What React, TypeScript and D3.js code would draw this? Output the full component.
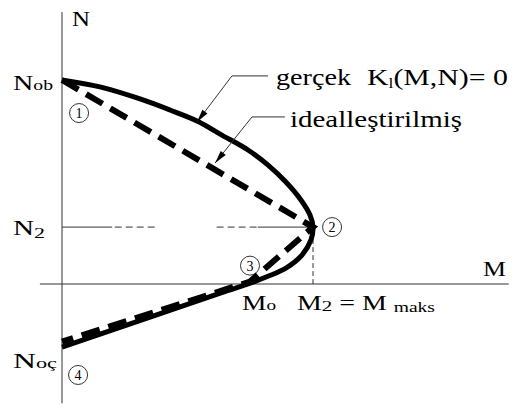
import React from 'react';
import * as d3 from 'd3';

const W = 514;
const H = 408;

// Interaction curve K1(M,N) = 0, normalised so that M2 = 1 and Nob = 1
const realM = [0, 0.151, 0.311, 0.43, 0.538, 0.637, 0.741, 0.821, 0.892, 0.952, 0.988, 1.0, 0.992, 0.956, 0.892, 0.813, 0.741, 0.657, 0];
const realN = [1.0, 0.966, 0.907, 0.853, 0.799, 0.73, 0.657, 0.583, 0.5, 0.412, 0.338, 0.279, 0.216, 0.142, 0.078, 0.034, 0, -0.034, -0.309];

// Idealised polygon 1-2-3-4
const idealM = [0, 1.0, 0.749, 0];
const idealN = [1.0, 0.279, 0.012, -0.283];

// Key points
const N2 = 0.279;
const M2 = 1.0;

// Numbered markers
const markerNames = ['1', '2', '3', '4'];
const markerM = [0.068, 1.076, 0.749, 0.064];
const markerN = [0.838, 0.279, 0.09, -0.446];

// Leader lines: [horizontal end, elbow, tip]
const leaderRealM = [0.821, 0.677, 0.538];
const leaderRealN = [1.02, 1.02, 0.794];
const leaderIdealM = [0.888, 0.757, 0.61];
const leaderIdealN = [0.819, 0.819, 0.593];

const FONT = 'Liberation Serif, Tinos, Times New Roman, serif';
const INK = '#000';
const THIN = '#333';

function arrowHead(x1: number, y1: number, x2: number, y2: number, len = 13, half = 3.2) {
  const dx = x2 - x1;
  const dy = y2 - y1;
  const d = Math.hypot(dx, dy);
  const ux = dx / d;
  const uy = dy / d;
  const bx = x2 - ux * len;
  const by = y2 - uy * len;
  return `M${x2},${y2}L${bx - uy * half},${by + ux * half}L${bx + uy * half},${by - ux * half}Z`;
}

export default function App() {
  const x = d3.scaleLinear().domain([0, 1]).range([62, 313]);
  const y = d3.scaleLinear().domain([0, 1]).range([284, 80]);

  const line = d3
    .line<number>()
    .x((_, i) => x(realM[i]))
    .y((_, i) => y(realN[i]))
    .curve(d3.curveCatmullRom.alpha(0.5));
  const idealLine = d3
    .line<number>()
    .x((_, i) => x(idealM[i]))
    .y((_, i) => y(idealN[i]));

  const realPath = line(realM.map((_, i) => i)) || '';
  const idealPath = idealLine(idealM.map((_, i) => i)) || '';

  const x0 = x(0);
  const y0 = y(0);
  const yN2 = y(N2);
  const xM2 = x(M2);

  const leader = (ms: number[], ns: number[]) => {
    const pts = ms.map((m, i) => [x(m), y(ns[i])]);
    const [a, b, c] = pts;
    return (
      <g>
        <polyline
          points={`${a[0]},${a[1]} ${b[0]},${b[1]} ${c[0]},${c[1]}`}
          fill="none"
          stroke={THIN}
          strokeWidth={1}
        />
        <path d={arrowHead(b[0], b[1], c[0], c[1])} fill={INK} />
      </g>
    );
  };

  const textStyle = { style: { fontFamily: FONT }, fill: INK } as const;

  return (
    <svg
      width={W}
      height={H}
      style={{ position: 'absolute', left: 0, top: 0, background: '#fff' }}
    >
      <rect width={W} height={H} fill="#fff" />

      {/* axes */}
      <line x1={x0} y1={y(1.333)} x2={x0} y2={y(-0.585)} stroke={THIN} strokeWidth={1} />
      <line x1={x(-0.088)} y1={y0} x2={x(1.78)} y2={y0} stroke={THIN} strokeWidth={1} />

      {/* N2 reference line */}
      <line x1={x0} y1={yN2} x2={x(0.2)} y2={yN2} stroke={THIN} strokeWidth={1} />
      <line x1={x(0.21)} y1={yN2} x2={x(0.382)} y2={yN2} stroke={THIN} strokeWidth={1} strokeDasharray="7 4" />
      <line x1={x(0.616)} y1={yN2} x2={x(0.78)} y2={yN2} stroke={THIN} strokeWidth={1} strokeDasharray="7 4" />
      <line x1={x(0.78)} y1={yN2} x2={xM2} y2={yN2} stroke={THIN} strokeWidth={1} />
      {/* M2 drop line */}
      <line x1={xM2} y1={yN2 + 4} x2={xM2} y2={y0} stroke={THIN} strokeWidth={1} strokeDasharray="5 3" />

      {/* numbered markers */}
      {markerNames.map((name, i) => (
        <g key={name}>
          <circle cx={x(markerM[i])} cy={y(markerN[i])} r={9.5} fill="#fff" stroke={THIN} strokeWidth={1} />
          <text
            x={x(markerM[i])}
            y={y(markerN[i]) + 5}
            textAnchor="middle"
            fontSize={14}
            {...textStyle}
          >
            {name}
          </text>
        </g>
      ))}

      {/* idealised and real interaction curves */}
      <path d={idealPath} fill="none" stroke={INK} strokeWidth={6} strokeDasharray="19 9" />
      <path d={realPath} fill="none" stroke={INK} strokeWidth={5} strokeLinejoin="round" />

      {/* leaders */}
      {leader(leaderRealM, leaderRealN)}
      {leader(leaderIdealM, leaderIdealN)}

      {/* axis labels */}
      <text x={72} y={26} fontSize={20} textLength={18} lengthAdjust="spacingAndGlyphs" {...textStyle}>
        N
      </text>
      <text x={483} y={y0 - 8} fontSize={20} textLength={23} lengthAdjust="spacingAndGlyphs" {...textStyle}>
        M
      </text>

      <text x={13} y={y(1) + 10} fontSize={20} textLength={40} lengthAdjust="spacingAndGlyphs" {...textStyle}>
        N<tspan fontSize={14}>ob</tspan>
      </text>
      <text x={13} y={yN2 + 8} fontSize={20} textLength={32} lengthAdjust="spacingAndGlyphs" {...textStyle}>
        N<tspan fontSize={15} dy={3}>2</tspan>
      </text>
      <text x={13} y={y(-0.309) + 21} fontSize={20} textLength={44} lengthAdjust="spacingAndGlyphs" {...textStyle}>
        N<tspan fontSize={14}>oç</tspan>
      </text>

      <text x={242} y={y0 + 26} fontSize={20} textLength={34} lengthAdjust="spacingAndGlyphs" {...textStyle}>
        M<tspan fontSize={14}>o</tspan>
      </text>
      <text x={297} y={y0 + 26} fontSize={20} textLength={138} lengthAdjust="spacingAndGlyphs" {...textStyle}>
        M<tspan fontSize={15} dy={1}>2</tspan>
        <tspan dy={-1}> = M </tspan>
        <tspan fontSize={14} dy={2}>maks</tspan>
      </text>

      {/* curve annotations */}
      <text x={276} y={85} fontSize={24} textLength={75} lengthAdjust="spacingAndGlyphs" {...textStyle}>
        gerçek
      </text>
      <text x={367} y={85} fontSize={24} textLength={141} lengthAdjust="spacingAndGlyphs" {...textStyle}>
        K<tspan fontSize={14} dy={3}>l</tspan>
        <tspan dy={-3}>(M,N)= 0</tspan>
      </text>
      <text x={290} y={127} fontSize={24} textLength={172} lengthAdjust="spacingAndGlyphs" {...textStyle}>
        idealleştirilmiş
      </text>
    </svg>
  );
}
